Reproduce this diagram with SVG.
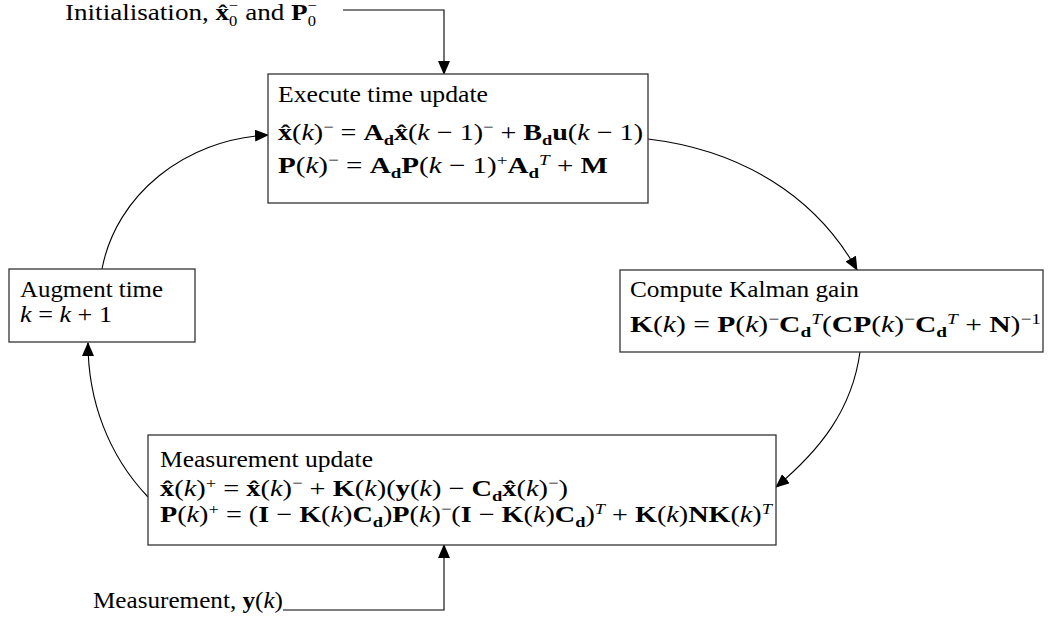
<svg xmlns="http://www.w3.org/2000/svg" width="1048" height="621" viewBox="0 0 1048 621">
<defs>
<marker id="ah" markerWidth="14" markerHeight="12" refX="13" refY="6" orient="auto" markerUnits="userSpaceOnUse">
<path d="M0,0 L14,6 L0,12 Z" fill="#000"/>
</marker>
<style>
text{font-family:"Liberation Serif","Times New Roman",serif;font-size:23px;fill:#000}
.b{font-weight:bold}
.i{font-style:italic}
.s{font-size:15px}
.t{font-size:14px}
.box{fill:#fff;stroke:#333;stroke-width:1.3}
.ln{fill:none;stroke:#000;stroke-width:1.1}
</style>
</defs>
<rect width="1048" height="621" fill="#fff"/>
<g id="connectors">
<path class="ln" d="M343,10 H444 V74" marker-end="url(#ah)"/>
<path class="ln" d="M283,610 H444 V545" marker-end="url(#ah)"/>
<path class="ln" d="M102,269 C116,195 185,139 268,135" marker-end="url(#ah)"/>
<path class="ln" d="M648,139 C740,150 815,195 857,270" marker-end="url(#ah)"/>
<path class="ln" d="M860,352 C852,410 820,450 776,487" marker-end="url(#ah)"/>
<path class="ln" d="M148,497 C108,455 88,400 88,343" marker-end="url(#ah)"/>
</g>
<g id="init-label">
<text x="65" y="20" textLength="252" lengthAdjust="spacingAndGlyphs">Initialisation, <tspan class="b">x̂</tspan><tspan class="t" dy="6">0</tspan><tspan class="t" dx="-7" dy="-16">−</tspan><tspan dy="10"> and </tspan><tspan class="b">P</tspan><tspan class="t" dy="6">0</tspan><tspan class="t" dx="-7" dy="-16">−</tspan></text>
</g>
<g id="execute">
<rect class="box" x="268" y="74" width="380" height="129"/>
<text x="278" y="102" textLength="210" lengthAdjust="spacingAndGlyphs">Execute time update</text>
<text x="278" y="140" textLength="365" lengthAdjust="spacingAndGlyphs"><tspan class="b">x̂</tspan>(<tspan class="i">k</tspan>)<tspan class="s" dy="-8">−</tspan><tspan dy="8"> = </tspan><tspan class="b">A</tspan><tspan class="b s" dy="5">d</tspan><tspan class="b" dy="-5">x̂</tspan>(<tspan class="i">k</tspan> − 1)<tspan class="s" dy="-8">−</tspan><tspan dy="8"> + </tspan><tspan class="b">B</tspan><tspan class="b s" dy="5">d</tspan><tspan class="b" dy="-5">u</tspan>(<tspan class="i">k</tspan> − 1)</text>
<text x="278" y="173" textLength="330" lengthAdjust="spacingAndGlyphs"><tspan class="b">P</tspan>(<tspan class="i">k</tspan>)<tspan class="s" dy="-8">−</tspan><tspan dy="8"> = </tspan><tspan class="b">A</tspan><tspan class="b s" dy="5">d</tspan><tspan class="b" dy="-5">P</tspan>(<tspan class="i">k</tspan> − 1)<tspan class="s" dy="-8">+</tspan><tspan class="b" dy="8">A</tspan><tspan class="b s" dy="5">d</tspan><tspan class="i s" dy="-13">T</tspan><tspan dy="8"> + </tspan><tspan class="b">M</tspan></text>
</g>
<g id="augment">
<rect class="box" x="9" y="269" width="186" height="73"/>
<text x="20" y="297" textLength="143" lengthAdjust="spacingAndGlyphs">Augment time</text>
<text x="20" y="322" textLength="92" lengthAdjust="spacingAndGlyphs"><tspan class="i">k</tspan> = <tspan class="i">k</tspan> + 1</text>
</g>
<g id="kalman">
<rect class="box" x="620" y="270" width="423" height="82"/>
<text x="630" y="297" textLength="229" lengthAdjust="spacingAndGlyphs">Compute Kalman gain</text>
<text x="630" y="332" textLength="411" lengthAdjust="spacingAndGlyphs"><tspan class="b">K</tspan>(<tspan class="i">k</tspan>) = <tspan class="b">P</tspan>(<tspan class="i">k</tspan>)<tspan class="s" dy="-8">−</tspan><tspan class="b" dy="8">C</tspan><tspan class="b s" dy="5">d</tspan><tspan class="i s" dy="-13">T</tspan><tspan dy="8">(</tspan><tspan class="b">CP</tspan>(<tspan class="i">k</tspan>)<tspan class="s" dy="-8">−</tspan><tspan class="b" dy="8">C</tspan><tspan class="b s" dy="5">d</tspan><tspan class="i s" dy="-13">T</tspan><tspan dy="8"> + </tspan><tspan class="b">N</tspan>)<tspan class="s" dy="-8">−1</tspan></text>
</g>
<g id="measurement">
<rect class="box" x="148" y="435" width="628" height="110"/>
<text x="160" y="467" textLength="213" lengthAdjust="spacingAndGlyphs">Measurement update</text>
<text x="160" y="496" textLength="408" lengthAdjust="spacingAndGlyphs"><tspan class="b">x̂</tspan>(<tspan class="i">k</tspan>)<tspan class="s" dy="-8">+</tspan><tspan dy="8"> = </tspan><tspan class="b">x̂</tspan>(<tspan class="i">k</tspan>)<tspan class="s" dy="-8">−</tspan><tspan dy="8"> + </tspan><tspan class="b">K</tspan>(<tspan class="i">k</tspan>)(<tspan class="b">y</tspan>(<tspan class="i">k</tspan>) − <tspan class="b">C</tspan><tspan class="b s" dy="5">d</tspan><tspan class="b" dy="-5">x̂</tspan>(<tspan class="i">k</tspan>)<tspan class="s" dy="-8">−</tspan><tspan dy="8">)</tspan></text>
<text x="160" y="522" textLength="612" lengthAdjust="spacingAndGlyphs"><tspan class="b">P</tspan>(<tspan class="i">k</tspan>)<tspan class="s" dy="-8">+</tspan><tspan dy="8"> = (</tspan><tspan class="b">I</tspan> − <tspan class="b">K</tspan>(<tspan class="i">k</tspan>)<tspan class="b">C</tspan><tspan class="b s" dy="5">d</tspan><tspan dy="-5">)</tspan><tspan class="b">P</tspan>(<tspan class="i">k</tspan>)<tspan class="s" dy="-8">−</tspan><tspan dy="8">(</tspan><tspan class="b">I</tspan> − <tspan class="b">K</tspan>(<tspan class="i">k</tspan>)<tspan class="b">C</tspan><tspan class="b s" dy="5">d</tspan><tspan dy="-5">)</tspan><tspan class="i s" dy="-8">T</tspan><tspan dy="8"> + </tspan><tspan class="b">K</tspan>(<tspan class="i">k</tspan>)<tspan class="b">NK</tspan>(<tspan class="i">k</tspan>)<tspan class="i s" dy="-8">T</tspan></text>
</g>
<g id="measurement-label">
<text x="93" y="608" textLength="190" lengthAdjust="spacingAndGlyphs">Measurement, <tspan class="b">y</tspan>(<tspan class="i">k</tspan>)</text>
</g>
</svg>
